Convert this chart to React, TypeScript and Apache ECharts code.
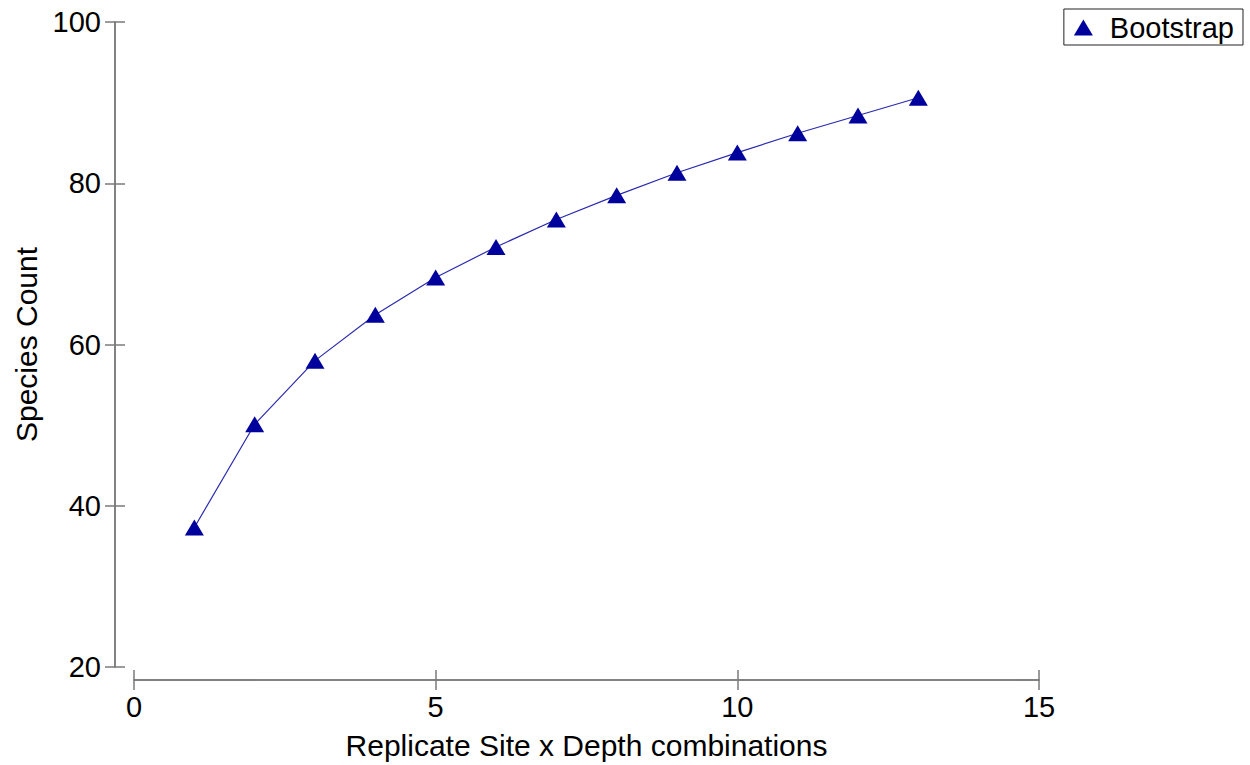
import React, { useEffect, useRef } from "react";
import * as echarts from "echarts";

const xValues = [1, 2, 3, 4, 5, 6, 7, 8, 9, 10, 11, 12, 13];
const speciesCount = [37.3, 50.1, 58.0, 63.7, 68.3, 72.1, 75.5, 78.5, 81.3, 83.8, 86.2, 88.4, 90.6];
const seriesName = "Bootstrap";

export default function App() {
  const ref = useRef<HTMLDivElement>(null);
  useEffect(() => {
    if (!ref.current) return;
    const chart = echarts.init(ref.current, null, { renderer: "svg" });
    const font = "Liberation Sans, Arial, sans-serif";
    const axisColor = "#7a7a7a";
    const xBase = {
      type: "value" as const,
      min: 0,
      max: 15,
      interval: 5,
      position: "bottom" as const,
      offset: 13,
      splitLine: { show: false },
      axisLine: { show: true, onZero: false, lineStyle: { color: axisColor, width: 1.5 } },
    };
    const yBase = {
      type: "value" as const,
      min: 20,
      max: 100,
      interval: 20,
      position: "left" as const,
      offset: 19,
      splitLine: { show: false },
      axisLine: { show: true, onZero: false, lineStyle: { color: axisColor, width: 1.5 } },
    };
    chart.setOption({
      animation: false,
      backgroundColor: "#ffffff",
      grid: { left: 134, right: 211, top: 22, bottom: 95, containLabel: false },
      legend: {
        right: 7,
        top: 9,
        padding: [4, 9, 3, 10],
        borderColor: "#222",
        borderWidth: 1,
        borderRadius: 0,
        itemWidth: 19,
        itemHeight: 16,
        itemGap: 10,
        textStyle: { fontFamily: font, fontSize: 29, color: "#000", padding: [0, 0, 0, 12] },
        data: [{ name: seriesName, icon: "triangle" }],
      },
      xAxis: [
        {
          ...xBase,
          name: "Replicate Site x Depth combinations",
          nameLocation: "middle",
          nameGap: 50,
          nameTextStyle: { fontFamily: font, fontSize: 30, color: "#000" },
          axisTick: { show: true, inside: false, length: 10, lineStyle: { color: axisColor, width: 1.5 } },
          axisLabel: { fontFamily: font, fontSize: 29, color: "#000", margin: 12 },
        },
        {
          ...xBase,
          axisTick: { show: true, inside: true, length: 10, lineStyle: { color: axisColor, width: 1.5 } },
          axisLabel: { show: false },
        },
      ],
      yAxis: [
        {
          ...yBase,
          name: "Species Count",
          nameLocation: "middle",
          nameGap: 73,
          nameTextStyle: { fontFamily: font, fontSize: 30, color: "#000" },
          axisTick: { show: true, inside: false, length: 10, lineStyle: { color: axisColor, width: 1.5 } },
          axisLabel: { fontFamily: font, fontSize: 29, color: "#000", margin: 14 },
        },
        {
          ...yBase,
          axisTick: { show: true, inside: true, length: 10, lineStyle: { color: axisColor, width: 1.5 } },
          axisLabel: { show: false },
        },
      ],
      series: [
        {
          name: seriesName,
          type: "line",
          xAxisIndex: 0,
          yAxisIndex: 0,
          data: xValues.map((x, i) => [x, speciesCount[i]]),
          symbol: "triangle",
          symbolSize: [19, 16],
          showAllSymbol: true,
          lineStyle: { color: "#2a2ab0", width: 1.2 },
          itemStyle: { color: "#00009c" },
        },
      ],
    });
    return () => chart.dispose();
  }, []);
  return (
    <div
      ref={ref}
      style={{ position: "absolute", left: 0, top: 0, width: 1250, height: 765 }}
    />
  );
}
